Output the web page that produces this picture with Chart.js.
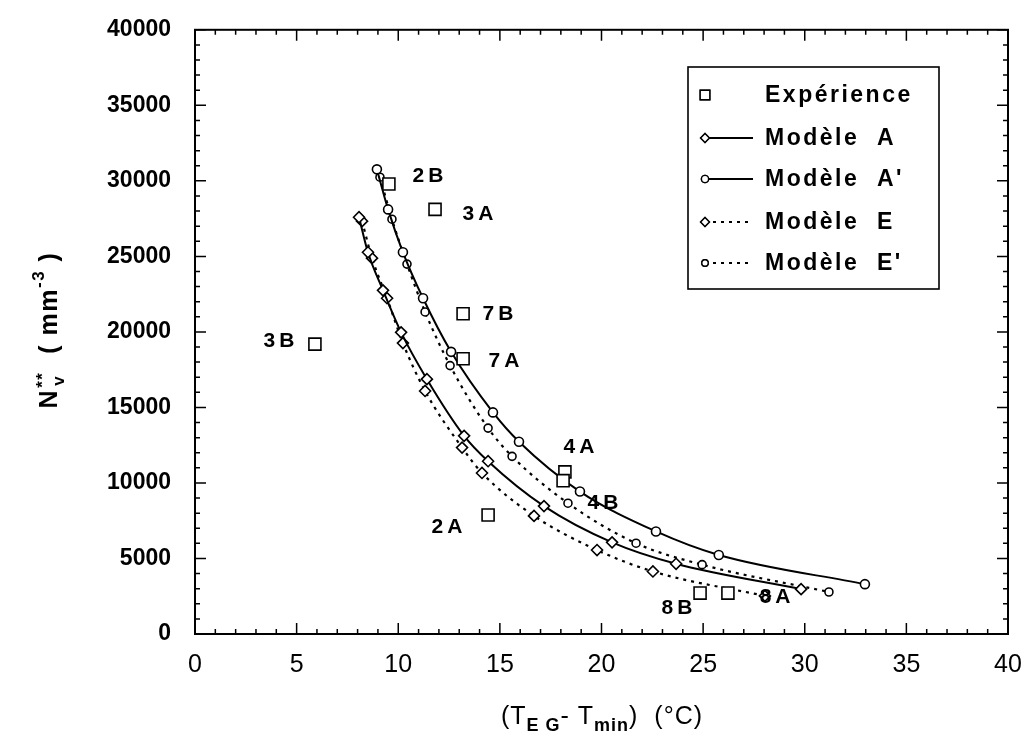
<!DOCTYPE html>
<html>
<head>
<meta charset="utf-8">
<script src="https://cdn.jsdelivr.net/npm/chart.js@4.4.0/dist/chart.umd.min.js"></script>
<style>
  html, body { margin: 0; padding: 0; background: #fff; }
  #wrap { width: 1030px; height: 755px; }
</style>
</head>
<body>
<div id="wrap"><canvas id="nvChart" width="1030" height="755"></canvas></div>
<script>
// experiment points
const expX = [9.54, 11.81, 5.90, 13.19, 13.19, 18.20, 18.11, 14.42, 24.85, 26.22];
const expY = [29790, 28110, 19190, 21200, 18220, 10730, 10150, 7880, 2710, 2710];
// labels of the experiments
const expLabels = ['2B', '3A', '3B', '7B', '7A', '4A', '4B', '2A', '8B', '8A'];
const labelX = [11.46, 13.92, 4.13, 14.91, 15.20, 18.89, 20.07, 12.40, 23.71, 28.54];
const labelY = [30310, 27790, 19390, 21200, 18090, 12340, 8660, 7040, 1680, 2460];

// Modèle A
const modelAX = [8.07, 8.51, 9.25, 10.14, 11.41, 13.24, 14.42, 17.17, 20.52, 23.67, 29.82];
const modelAY = [27590, 25270, 22750, 19970, 16870, 13120, 11440, 8470, 6070, 4650, 2970];
// Modèle A'
const modelA2X = [8.95, 9.50, 10.23, 11.22, 12.60, 14.66, 15.94, 18.94, 22.68, 25.77, 32.96];
const modelA2Y = [30760, 28110, 25270, 22230, 18680, 14670, 12730, 9430, 6790, 5230, 3300];
// Modèle E
const modelEX = [8.22, 8.71, 9.45, 10.23, 11.32, 13.14, 14.12, 16.68, 19.78, 22.53, 28.04];
const modelEY = [27330, 24880, 22230, 19260, 16090, 12340, 10660, 7820, 5560, 4140, 2520];
// Modèle E'
const modelE2X = [9.10, 9.69, 10.43, 11.32, 12.55, 14.42, 15.60, 18.35, 21.70, 24.95, 31.19];
const modelE2Y = [30240, 27460, 24490, 21320, 17770, 13630, 11760, 8660, 6010, 4590, 2780];

const seriesNames = ['Expérience', 'Modèle  A', "Modèle  A'", 'Modèle  E', "Modèle  E'"];

function pts(xs, ys) {
  return xs.map((x, i) => ({ x: x, y: ys[i] }));
}

function modelSet(label, xs, ys, style, radius, dotted) {
  return {
    label: label,
    data: pts(xs, ys),
    showLine: true,
    cubicInterpolationMode: 'monotone',
    borderColor: '#000',
    borderWidth: dotted ? 2.2 : 2,
    borderDash: dotted ? [3, 5] : [],
    pointStyle: style,
    pointRadius: radius,
    pointBackgroundColor: '#fff',
    pointBorderColor: '#000',
    pointBorderWidth: 1.6
  };
}

const datasets = [
  {
    label: seriesNames[0],
    data: pts(expX, expY),
    showLine: false,
    pointStyle: 'rect',
    pointRadius: 8.5,
    pointBackgroundColor: '#fff',
    pointBorderColor: '#000',
    pointBorderWidth: 1.6
  },
  modelSet(seriesNames[1], modelAX, modelAY, 'rectRot', 5.5, false),
  modelSet(seriesNames[2], modelA2X, modelA2Y, 'circle', 4.5, false),
  modelSet(seriesNames[3], modelEX, modelEY, 'rectRot', 5.5, true),
  modelSet(seriesNames[4], modelE2X, modelE2Y, 'circle', 4, true)
];

const BOLD = 'bold 23px "Liberation Sans", Arial, sans-serif';

// draws text parts one after the other, centred on cx
function drawParts(ctx, parts, cx, cy) {
  let total = 0;
  parts.forEach(p => { ctx.font = p.font; total += ctx.measureText(p.t).width; });
  let x = cx - total / 2;
  parts.forEach(p => {
    ctx.font = p.font;
    ctx.fillText(p.t, x, cy + (p.dy || 0));
    x += ctx.measureText(p.t).width;
  });
}

const decor = {
  id: 'decor',
  afterDraw(chart) {
    const ctx = chart.ctx;
    const a = chart.chartArea;
    const xs = chart.scales.x, ys = chart.scales.y;
    ctx.save();
    ctx.strokeStyle = '#000';
    ctx.fillStyle = '#000';

    // frame
    ctx.lineWidth = 2;
    ctx.strokeRect(a.left, a.top, a.right - a.left, a.bottom - a.top);

    // inward ticks on all four sides
    ctx.lineWidth = 1.5;
    ctx.beginPath();
    for (let v = 0; v <= 40; v++) {
      const px = xs.getPixelForValue(v);
      const len = v % 5 === 0 ? 11 : 5;
      ctx.moveTo(px, a.bottom); ctx.lineTo(px, a.bottom - len);
      ctx.moveTo(px, a.top); ctx.lineTo(px, a.top + len);
    }
    for (let v = 0; v <= 40000; v += 1000) {
      const py = ys.getPixelForValue(v);
      const len = v % 5000 === 0 ? 11 : 5;
      ctx.moveTo(a.left, py); ctx.lineTo(a.left + len, py);
      ctx.moveTo(a.right, py); ctx.lineTo(a.right - len, py);
    }
    ctx.stroke();

    // experiment labels
    ctx.font = 'bold 21px "Liberation Sans", Arial, sans-serif';
    ctx.letterSpacing = '4px';
    ctx.textAlign = 'center';
    ctx.textBaseline = 'middle';
    expLabels.forEach((t, i) => {
      ctx.fillText(t, xs.getPixelForValue(labelX[i]) + 2, ys.getPixelForValue(labelY[i]));
    });
    ctx.letterSpacing = '0px';

    // legend box
    const lx = 688, ly = 67, lw = 251, lh = 222;
    ctx.lineWidth = 1.6;
    ctx.strokeRect(lx, ly, lw, lh);
    const rows = [95, 138, 179, 222, 263];
    ctx.textAlign = 'left';
    chart.data.datasets.forEach((ds, i) => {
      const y = rows[i];
      if (ds.showLine) {
        ctx.save();
        ctx.lineWidth = ds.borderWidth;
        ctx.setLineDash(ds.borderDash);
        ctx.beginPath();
        ctx.moveTo(705, y); ctx.lineTo(753, y);
        ctx.stroke();
        ctx.restore();
      }
      ctx.save();
      ctx.fillStyle = '#fff';
      ctx.lineWidth = 1.4;
      Chart.helpers.drawPoint(ctx, { pointStyle: ds.pointStyle, radius: ds.pointRadius * 0.8, borderWidth: 1.4 }, 705, y);
      ctx.fill();
      ctx.stroke();
      ctx.restore();
      ctx.font = BOLD;
      ctx.letterSpacing = '2.5px';
      ctx.fillText(ds.label, 765, y + 1);
      ctx.letterSpacing = '0px';
    });

    // y axis title
    ctx.save();
    ctx.translate(50, 330);
    ctx.rotate(-Math.PI / 2);
    ctx.textAlign = 'left';
    ctx.textBaseline = 'middle';
    ctx.letterSpacing = '1.5px';
    const big = 'bold 25px "Liberation Sans", Arial, sans-serif';
    const small = 'bold 17px "Liberation Sans", Arial, sans-serif';
    ctx.font = big;
    const wN = ctx.measureText('N').width;
    ctx.font = small;
    const wS = ctx.measureText('**').width;
    ctx.font = big;
    const rest1 = '  ( mm';
    const w1 = ctx.measureText(rest1).width;
    ctx.font = small;
    const w3 = ctx.measureText('-3').width;
    ctx.font = big;
    const w4 = ctx.measureText(' )').width;
    let x0 = -(wN + wS + 2 + w1 + w3 + w4) / 2;
    ctx.font = big; ctx.fillText('N', x0, 0); x0 += wN + 1;
    ctx.font = small; ctx.fillText('**', x0, -7); ctx.fillText('v', x0 + 2, 9); x0 += wS + 1;
    ctx.font = big; ctx.fillText(rest1, x0, 0); x0 += w1;
    ctx.font = small; ctx.fillText('-3', x0, -11); x0 += w3;
    ctx.font = big; ctx.fillText(' )', x0, 0);
    ctx.restore();

    // x axis title
    ctx.textAlign = 'left';
    ctx.textBaseline = 'middle';
    const norm = '25px "Liberation Sans Narrow", "Liberation Sans", Arial, sans-serif';
    const sub = 'bold 18px "Liberation Sans", Arial, sans-serif';
    ctx.letterSpacing = '1px';
    drawParts(ctx, [
      { t: '(T', font: norm },
      { t: 'E G', font: sub, dy: 9 },
      { t: '- T', font: norm },
      { t: 'min', font: sub, dy: 9 },
      { t: ')  (°C)', font: norm }
    ], 602, 717);
    ctx.restore();
  }
};

new Chart(document.getElementById('nvChart'), {
  type: 'scatter',
  data: { datasets: datasets },
  options: {
    responsive: false,
    animation: false,
    events: [],
    layout: { padding: { left: 0, right: 22, top: 15, bottom: 0 } },
    plugins: {
      legend: { display: false },
      tooltip: { enabled: false }
    },
    scales: {
      x: {
        type: 'linear',
        min: 0,
        max: 40,
        grid: { display: false },
        border: { display: false },
        ticks: {
          stepSize: 5,
          padding: 8,
          color: '#000',
          font: { family: '"Liberation Sans Narrow", "Liberation Sans", Arial, sans-serif', size: 25 }
        },
        afterFit(s) { s.height = 121; }
      },
      y: {
        type: 'linear',
        min: 0,
        max: 40000,
        grid: { display: false },
        border: { display: false },
        ticks: {
          stepSize: 5000,
          padding: 16,
          color: '#000',
          callback: v => String(v),
          font: { family: '"Liberation Sans", Arial, sans-serif', weight: 'bold', size: 23 }
        },
        afterFit(s) { s.width = 195; }
      }
    }
  },
  plugins: [decor]
});
</script>
</body>
</html>
